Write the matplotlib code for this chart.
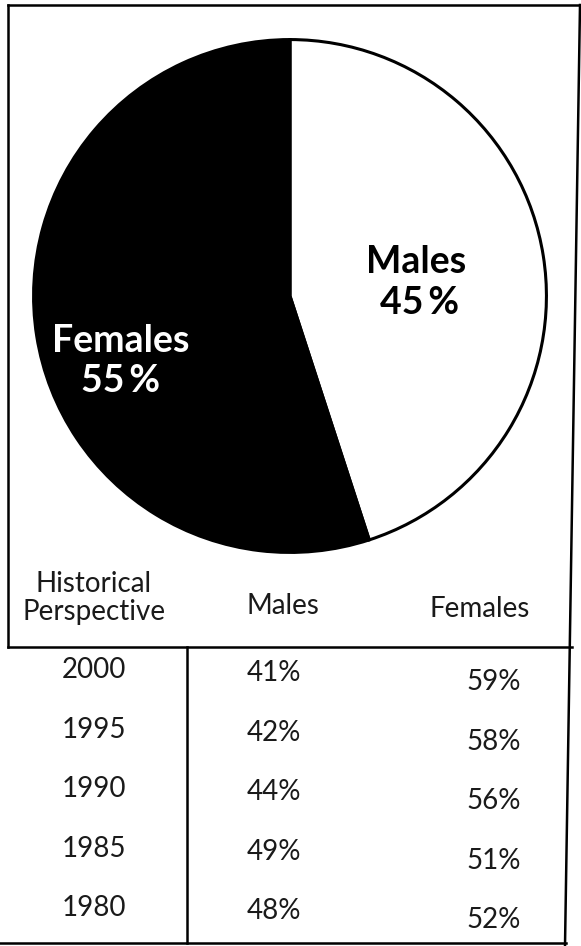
import matplotlib
matplotlib.use("Agg")
import matplotlib.pyplot as plt
from matplotlib.lines import Line2D

# ---- data ----
pie_labels = ["Males", "Females"]
pie_values = [45, 55]
pie_colors = ["white", "black"]
pie_text_colors = ["black", "white"]

table_header = ["Historical\nPerspective", "Males", "Females"]
years = ["2000", "1995", "1990", "1985", "1980"]
males_pct = [41, 42, 44, 49, 48]
females_pct = [59, 58, 56, 51, 52]

W, H = 581, 946
fig = plt.figure(figsize=(W / 100, H / 100), dpi=100)

FONT = ["Lato", "DejaVu Sans"]

# ---- pie ----
cx, cy, r = 290, 296, 259
pax = fig.add_axes([(cx - r) / W, 1 - (cy + r) / H, 2 * r / W, 2 * r / H])
pax.pie(pie_values, colors=pie_colors, startangle=90, counterclock=False,
        wedgeprops=dict(edgecolor="black", linewidth=2.2), radius=1.0)
pax.set_xlim(-1.01, 1.01)
pax.set_ylim(-1.01, 1.01)
pax.axis("off")

# overlay axes in pixel coordinates
ax = fig.add_axes([0, 0, 1, 1])
ax.set_xlim(0, W)
ax.set_ylim(H, 0)
ax.axis("off")
ax.patch.set_alpha(0)

# pie labels
lab_fs = 27
ax.text(416, 262, pie_labels[0], ha="center", va="center", fontsize=lab_fs,
        fontweight="bold", family=FONT, color=pie_text_colors[0])
ax.text(420, 303, f"{pie_values[0]}\u2009%", ha="center", va="center", fontsize=lab_fs,
        fontweight="bold", family=FONT, color=pie_text_colors[0])
ax.text(121, 341, pie_labels[1], ha="center", va="center", fontsize=lab_fs,
        fontweight="bold", family=FONT, color=pie_text_colors[1])
ax.text(121, 381, f"{pie_values[1]}\u2009%", ha="center", va="center", fontsize=lab_fs,
        fontweight="bold", family=FONT, color=pie_text_colors[1])

# ---- frame lines ----
lw = 1.8
ax.add_line(Line2D([8, 580], [5, 5], color="black", lw=lw))
ax.add_line(Line2D([8, 8], [5, 647], color="black", lw=lw))
ax.add_line(Line2D([580, 565], [5, 946], color="black", lw=lw))
ax.add_line(Line2D([8, 572], [647, 647], color="black", lw=lw))
ax.add_line(Line2D([0, 566], [943, 943], color="black", lw=lw))
ax.add_line(Line2D([187, 187], [647, 943], color="black", lw=lw))

# ---- table ----
tfs = 20
tcol = "#1a1a1a"
col_x = [94, 283, 480]
ax.text(col_x[0], 598, table_header[0], ha="center", va="center", fontsize=tfs,
        family=FONT, linespacing=1.05, color=tcol)
ax.text(col_x[1], 606, table_header[1], ha="center", va="center", fontsize=tfs,
        family=FONT, color=tcol)
ax.text(col_x[2], 609, table_header[2], ha="center", va="center", fontsize=tfs,
        family=FONT, color=tcol)

row_y0, row_dy = 670, 59.5
val_x = [94, 274, 494]
for i, (yr, m, f) in enumerate(zip(years, males_pct, females_pct)):
    y = row_y0 + i * row_dy
    ax.text(val_x[0], y, yr, ha="center", va="center", fontsize=tfs, family=FONT, color=tcol)
    ax.text(val_x[1], y + 3, f"{m}%", ha="center", va="center", fontsize=tfs, family=FONT, color=tcol)
    ax.text(val_x[2], y + 12, f"{f}%", ha="center", va="center", fontsize=tfs, family=FONT, color=tcol)

fig.savefig("out.png", dpi=100, facecolor="white")
